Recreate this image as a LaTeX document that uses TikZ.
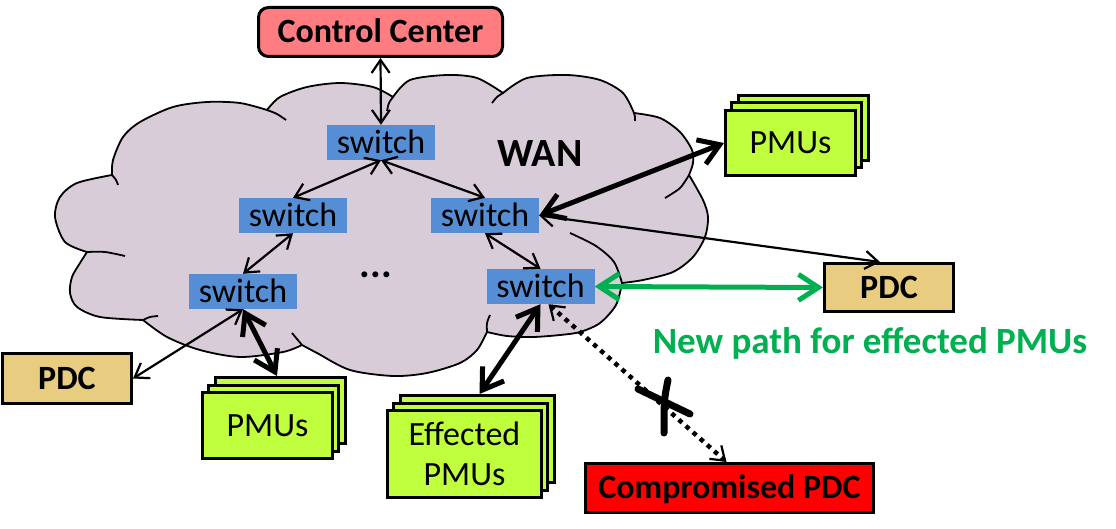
\documentclass[tikz,border=0pt]{standalone}
\usepackage{fontspec}
\setmainfont{Carlito}
\usetikzlibrary{arrows.meta,shadows,calc}
\definecolor{cloudfill}{RGB}{216,204,216}
\definecolor{swblue}{RGB}{85,142,213}
\definecolor{pmugreen}{RGB}{192,255,61}
\definecolor{pdcfill}{RGB}{232,204,128}
\definecolor{ccfill}{RGB}{255,124,128}
\definecolor{pathgreen}{RGB}{0,176,80}
\begin{document}
\begin{tikzpicture}[x=1pt,y=-1pt,
  txt/.style={font=\fontsize{34}{40}\selectfont},
  btxt/.style={font=\bfseries\fontsize{34}{40}\selectfont},
  capc/.style={text height=21.5pt, text depth=0pt},
  sw/.style={txt, capc, fill=swblue, minimum width=108pt, minimum height=35pt, inner sep=0pt},
  pmu/.style={txt, draw, line width=3pt, fill=pmugreen, inner sep=0pt, align=center,
    double copy shadow={shadow xshift=6.25pt, shadow yshift=7.5pt}},
  pdc/.style={btxt, capc, draw, line width=3pt, fill=pdcfill, minimum width=129pt, minimum height=48pt, inner sep=0pt},
  ccbox/.style={btxt, capc, draw, line width=3pt, fill=ccfill, rounded corners=10pt, minimum width=244pt, minimum height=49pt, inner sep=0pt},
  badbox/.style={btxt, capc, draw, line width=3pt, fill=red, minimum width=288pt, minimum height=49pt, inner sep=0pt},
  thinarrow/.style={line width=2.2pt, {Straight Barb[length=13pt,width=18pt]}-{Straight Barb[length=13pt,width=18pt]}},
  thickarrow/.style={line width=5pt, {Straight Barb[length=20pt,width=26pt]}-{Straight Barb[length=20pt,width=26pt]}},
  greenarrow/.style={thickarrow, draw=pathgreen},
  dotarrow/.style={line width=4.5pt, dash pattern=on 4.5pt off 5pt, {Straight Barb[length=13pt,width=18pt,line width=2.2pt]}-{Straight Barb[length=13pt,width=18pt,line width=2.2pt]}},
  cloudline/.style={draw=black, line width=1.8pt},
  xmark/.style={line width=7pt, line cap=round},
]
\useasboundingbox (0,0) rectangle (1116,529);
% cloud
\path[cloudline, fill=cloudfill]
 plot[smooth] coordinates {(87,252) (65,242) (55,217) (60,197) (77,183) (112,175)}
 -- plot[smooth] coordinates {(112,175) (113,160) (123,137) (140,122) (173,107) (207,102) (240,103) (267,110)}
 -- plot[smooth] coordinates {(267,110) (280,97) (307,87) (340,83) (373,87) (393,97)}
 -- plot[smooth] coordinates {(393,97) (410,80) (447,75) (477,78) (503,93)}
 -- plot[smooth] coordinates {(503,93) (527,78) (567,75) (600,80) (623,93) (634,113)}
 -- plot[smooth] coordinates {(634,113) (660,118) (680,132) (692,150) (693,163) (689,175)}
 -- plot[smooth] coordinates {(689,175) (703,200) (708,217) (705,237) (693,257) (673,272) (643,280) (622,283)}
 -- plot[smooth] coordinates {(622,283) (616,305) (600,323) (580,332) (560,335) (533,337) (507,336) (487,332)}
 -- plot[smooth] coordinates {(487,332) (477,350) (460,363) (427,373) (393,376) (350,370) (317,353) (302,345)}
 -- plot[smooth] coordinates {(302,345) (283,352) (240,357) (200,350) (167,337) (143,320)}
 -- plot[smooth] coordinates {(143,320) (100,317) (77,307) (70,293) (72,277) (80,263) (87,252)}
 -- cycle;
\draw[cloudline] plot[smooth] coordinates {(87,252) (105,252) (125,256)};
\draw[cloudline] plot[smooth] coordinates {(112,175) (116,180) (118,185)};
\draw[cloudline] plot[smooth] coordinates {(267,110) (277,114) (286,120)};
\draw[cloudline] plot[smooth] coordinates {(393,97) (389,103) (387,111)};
\draw[cloudline] plot[smooth] coordinates {(503,93) (497,97) (492,103)};
\draw[cloudline] plot[smooth] coordinates {(634,113) (635,117) (635,121)};
\draw[cloudline] plot[smooth] coordinates {(689,175) (680,188) (665,198)};
\draw[cloudline] plot[smooth] coordinates {(622,283) (614,262) (596,246) (570,233)};
\draw[cloudline] plot[smooth] coordinates {(487,332) (487,323) (490,315)};
\draw[cloudline] plot[smooth] coordinates {(302,345) (297,339) (292,333)};
\draw[cloudline] plot[smooth] coordinates {(143,320) (150,317) (158,316)};
% texts
\node[font=\bfseries\fontsize{40}{44}\selectfont, anchor=base] (wan) at (540,167) {WAN};
\node[font=\bfseries\fontsize{40}{44}\selectfont, anchor=base] (dots) at (376,277) {...};
\node[font=\bfseries\fontsize{37}{42}\selectfont, text=pathgreen, anchor=base] (newpath) at (870,353) {New path for effected PMUs};
% nodes
\node[ccbox] (cc) at (380.5,32) {Control Center};
\node[sw] (s1) at (381,142.5) {switch};
\node[sw] (s2) at (293,215.5) {switch};
\node[sw] (s3) at (485,215.5) {switch};
\node[sw] (s4) at (243,291.5) {switch};
\node[sw] (s5) at (540.5,286.5) {switch};
\node[pmu, capc, minimum width=130pt, minimum height=65pt] (pmut) at (790.5,143) {PMUs};
\node[pmu, capc, minimum width=130pt, minimum height=66pt] (pmub) at (267.5,425.5) {PMUs};
\node[pmu, minimum width=154pt, minimum height=87pt, shadow xshift=7.5pt] (eff) at (464.5,454) {Effected\\PMUs};
\node[pdc] (pdcr) at (889,287.5) {PDC};
\node[pdc, minimum height=50pt] (pdcl) at (67,378.5) {PDC};
\node[badbox] (cpdc) at (729.5,488) {Compromised PDC};
% connectors
\draw[thinarrow] (cc.south) -- (s1.north);
\draw[thinarrow] (s1.south) -- (s2.north);
\draw[thinarrow] (s1.south) -- (s3.north);
\draw[thinarrow] (s2.south) -- (s4.north);
\draw[thinarrow] (s3.south) -- (s5.north);
\draw[thickarrow] (s3.east) -- (pmut.west);
\draw[thinarrow] (s3.east) -- ([xshift=-9pt]pdcr.north);
\draw[greenarrow] (s5.east) -- (pdcr.west);
\draw[thinarrow] (s4.south) -- (pdcl.east);
\draw[thickarrow] (s4.south) -- ([xshift=9.5pt,yshift=15pt]pmub.north);
\draw[thickarrow] (s5.south) -- ([xshift=15pt,yshift=15pt]eff.north);
\draw[dotarrow] ([xshift=8pt]s5.south) -- ([xshift=-3pt]cpdc.north);
\draw[xmark] (638,389) -- (690,414);
\draw[xmark] (668,380) .. controls (664,400) .. (664,433);
\end{tikzpicture}
\end{document}
